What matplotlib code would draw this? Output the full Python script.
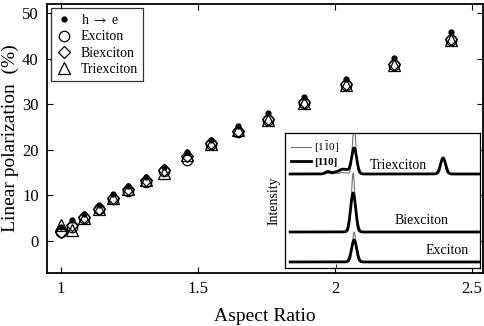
import numpy as np
import matplotlib
matplotlib.use("Agg")
import matplotlib.pyplot as plt

plt.rcParams['font.family'] = ['Liberation Serif', 'DejaVu Serif']
plt.rcParams['mathtext.fontset'] = 'stix'
plt.rcParams['xtick.direction'] = 'in'
plt.rcParams['ytick.direction'] = 'in'

# main data: polarization vs aspect ratio
aspect = [1.0, 1.04, 1.085, 1.14, 1.19, 1.245, 1.31, 1.377, 1.46, 1.547,
          1.645, 1.757, 1.888, 2.04, 2.214, 2.424]
h_to_e = [3.0, 4.5, 6.0, 7.8, 10.2, 12.1, 14.0, 16.3, 19.6, 22.2,
          25.2, 28.0, 31.6, 35.6, 40.1, 45.8]
exciton = [2.0, 3.0, 5.0, 7.0, 9.3, 11.0, 13.0, 15.3, 17.8, 21.3,
           24.0, 26.5, 30.2, 34.2, 38.5, 44.0]
biexciton = [2.0, 3.4, 5.3, 7.1, 9.5, 11.3, 13.3, 15.6, 18.6, 21.5,
             24.2, 26.8, 30.5, 34.5, 38.8, 44.3]
triexciton = [3.6, 2.4, 5.0, 6.9, 9.4, 11.5, 13.4, 15.0, 18.8, 21.3,
              24.3, 26.5, 30.2, 34.3, 38.6, 44.0]

# inset spectra: baseline offset, peak centres, heights for the two polarizations
spec_names = ['Exciton', 'Biexciton', 'Triexciton']
spec_base = [6, 36, 94]
peak_pos = [[35.4], [34.9], [35.4, 81.0, 22.0, 26.0, 29.0, 31.5]]
peak_h_110 = [[22], [39], [26, 16, 2.5, 2.0, 4.0, 3.5]]
peak_h_1m10 = [[30], [59], [48, 17, 0.8, 0.8, 1.5, 1.2]]


def spectrum(x, pos, heights, width):
    y = np.zeros_like(x)
    for p, h in zip(pos, heights):
        y += h * np.exp(-0.5 * ((x - p) / width) ** 2)
    return y


fig = plt.figure(figsize=(4.84, 3.26), dpi=100)
ax = fig.add_axes([0.097, 0.163, 0.901, 0.825])

ax.plot(aspect, exciton, 'o', mfc='none', mec='black', ms=7.5, mew=0.9, label='Exciton')
ax.plot(aspect, biexciton, 'D', mfc='none', mec='black', ms=6.5, mew=0.9, label='Biexciton')
ax.plot(aspect, triexciton, '^', mfc='none', mec='black', ms=8, mew=0.9, label='Triexciton')
ax.plot(aspect, h_to_e, 'o', color='black', ms=3.5, label=r'h $\rightarrow$ e')

handles, labels = ax.get_legend_handles_labels()
order = [3, 0, 1, 2]
leg = ax.legend([handles[i] for i in order], [labels[i] for i in order],
                loc='upper left', fontsize=10, frameon=True, fancybox=False,
                edgecolor='black', borderaxespad=0.3, handlelength=1.2,
                handletextpad=0.6, labelspacing=0.25, borderpad=0.35)
leg.get_frame().set_linewidth(0.9)

ax.set_xlim(0.95, 2.54)
ax.set_ylim(-7, 52)
ax.set_xticks([1, 1.5, 2, 2.5])
ax.set_xticklabels(['1', '1.5', '2', '2.5'])
ax.set_yticks([0, 10, 20, 30, 40, 50])
ax.tick_params(top=True, right=True, labelsize=12, length=4, width=0.8, pad=6)
for s in ax.spines.values():
    s.set_linewidth(1.3)
ax.set_xlabel('Aspect Ratio', fontsize=14, labelpad=8)
ax.set_ylabel('Linear polarization  (%)', fontsize=14, labelpad=2)

# inset
ins = fig.add_axes([0.589, 0.178, 0.403, 0.414])
xe = np.linspace(2.6, 100, 800)
for i in range(3):
    thin = spec_base[i] + spectrum(xe, peak_pos[i], peak_h_1m10[i], 0.9)
    thick = spec_base[i] + spectrum(xe, peak_pos[i], peak_h_110[i], 1.3)
    ins.plot(xe, thin, color='0.45', lw=0.8)
    ins.plot(xe, thick, color='black', lw=2.0)

ins.plot([], [], color='0.45', lw=0.8, label=r'[1$\bar{1}$0]')
ins.plot([], [], color='black', lw=2.0, label='[110]')
ileg = ins.legend(loc='upper left', fontsize=8, frameon=False, handlelength=1.8,
                  handletextpad=0.3, labelspacing=0.2, borderaxespad=0.1)
ileg.get_texts()[1].set_fontweight('bold')

ins.text(58, 102, 'Triexciton', fontsize=10, ha='center', va='center')
ins.text(70, 47, 'Biexciton', fontsize=10, ha='center', va='center')
ins.text(83, 17, 'Exciton', fontsize=10, ha='center', va='center')

ins.set_xlim(0, 100)
ins.set_ylim(0, 135)
ins.set_xticks([26])
ins.set_xticklabels([])
ins.set_yticks([])
ins.tick_params(length=3, width=0.6)
for s in ins.spines.values():
    s.set_linewidth(0.9)
ins.set_ylabel('Intensity', fontsize=10, labelpad=3)

fig.savefig('out.png', dpi=100)
